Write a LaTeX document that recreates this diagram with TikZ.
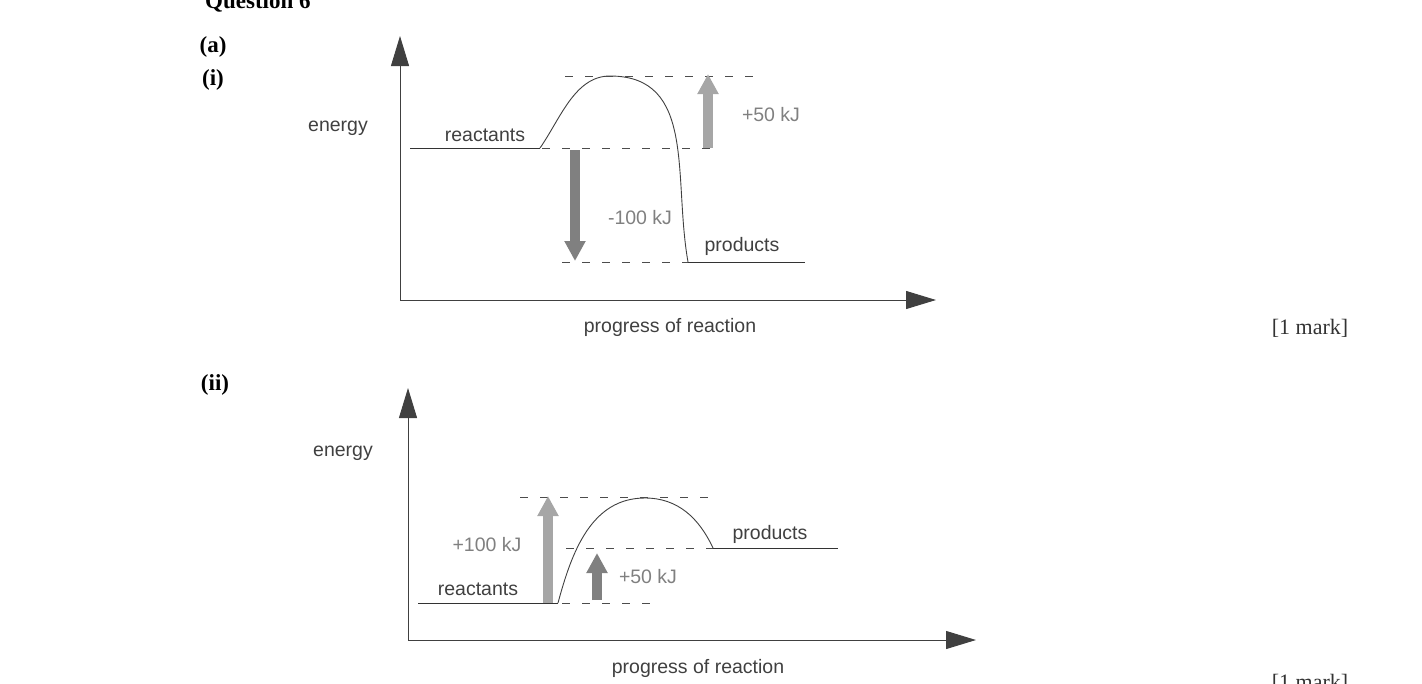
\documentclass[tikz,border=0pt]{standalone}
\usepackage{fontspec}
\setmainfont{Liberation Serif}
\setsansfont{Liberation Sans}
\usetikzlibrary{arrows.meta}
\begin{document}
\begin{tikzpicture}[x=1pt,y=-1pt,
  lbl/.style={font=\sffamily\fontsize{19.5}{22}\selectfont,text=black!75,inner sep=0pt},
  glbl/.style={font=\sffamily\fontsize{19.5}{22}\selectfont,text=black!50,inner sep=0pt},
  ser/.style={font=\bfseries\fontsize{23}{26}\selectfont,inner sep=0pt},
  axis/.style={draw=black!75,line width=1pt,-{Triangle[width=18pt,length=30pt]}},
  lvl/.style={draw=black!80,line width=0.9pt},
  dsh/.style={draw=black!70,line width=0.9pt,dash pattern=on 8pt off 12pt},
  crv/.style={draw=black!75,line width=0.9pt},
  bigup/.style={draw=black!35,line width=10pt,-{Triangle[width=20pt,length=20pt]}},
  bigdn/.style={draw=black!50,line width=10pt,-{Triangle[width=20pt,length=20pt]}}]
\useasboundingbox (0,0) rectangle (1422,683);
\node[ser,anchor=west] (q) at (205,2) {Question 6};
\node[ser] (a) at (213,47) {(a)};
\node[ser] (i) at (213,80) {(i)};
\node[ser] (ii) at (215,385) {(ii)};
\node[ser,font=\fontsize{22}{24}\selectfont,text=black!80] (m1) at (1310,328) {[1 mark]};
\node[ser,font=\fontsize{22}{24}\selectfont,text=black!80] (m2) at (1310,683) {[1 mark]};
% diagram 1
\coordinate (o1) at (400,300);
\coordinate (y1) at (400,36);
\coordinate (x1) at (936,300);
\draw[axis] (o1) -- (y1);
\draw[axis] (o1) -- (x1);
\node[lbl] (e1) at (338,128) {energy};
\node[lbl] (p1) at (670,327) {progress of reaction};
\node[lbl] (r1) at (485,135) {reactants};
\node[lbl] (pr1) at (742,246) {products};
\coordinate (ra) at (410,148); \coordinate (rb) at (540,148);
\coordinate (pk1) at (610,76);
\coordinate (pa) at (688,262); \coordinate (pb) at (805,262);
\draw[lvl] (ra) -- (rb);
\draw[lvl] (pa) -- (pb);
\draw[crv] (rb) to[out=55,in=180,looseness=0.9] (pk1) to[out=0,in=100,looseness=1.1] (pa);
\draw[dsh] (565,76) -- (760,76);
\draw[dsh] (542,148) -- (712,148);
\draw[dsh] (562,262) -- (688,262);
\coordinate (u1a) at (708,148); \coordinate (u1b) at (708,74);
\draw[bigup] (u1a) -- (u1b);
\coordinate (d1a) at (575,150); \coordinate (d1b) at (575,261);
\draw[bigdn] (d1a) -- (d1b);
\node[glbl] (l50) at (771,115) {+50 kJ};
\node[glbl] (l100) at (640,218) {-100 kJ};
% diagram 2
\coordinate (o2) at (408,640);
\coordinate (y2) at (408,388);
\coordinate (x2) at (976,640);
\draw[axis] (o2) -- (y2);
\draw[axis] (o2) -- (x2);
\node[lbl] (e2) at (343,453) {energy};
\node[lbl] (p2) at (698,668) {progress of reaction};
\node[lbl] (r2) at (478,589) {reactants};
\node[lbl] (pr2) at (770,534) {products};
\coordinate (r2a) at (418,603); \coordinate (r2b) at (558,603);
\coordinate (pk2) at (645,498);
\coordinate (p2a) at (713,548); \coordinate (p2b) at (838,548);
\draw[lvl] (r2a) -- (r2b);
\draw[lvl] (p2a) -- (p2b);
\draw[crv] (r2b) to[out=75,in=180] (pk2) to[out=0,in=115] (p2a);
\draw[dsh] (520,497) -- (716,497);
\draw[dsh] (566,548) -- (713,548);
\draw[dsh] (562,603) -- (650,603);
\coordinate (u2a) at (548,603); \coordinate (u2b) at (548,496);
\draw[bigup] (u2a) -- (u2b);
\coordinate (u3a) at (597,600); \coordinate (u3b) at (597,553);
\draw[bigdn] (u3a) -- (u3b);
\node[glbl] (l100b) at (487,545) {+100 kJ};
\node[glbl] (l50b) at (648,577) {+50 kJ};
\end{tikzpicture}
\end{document}
